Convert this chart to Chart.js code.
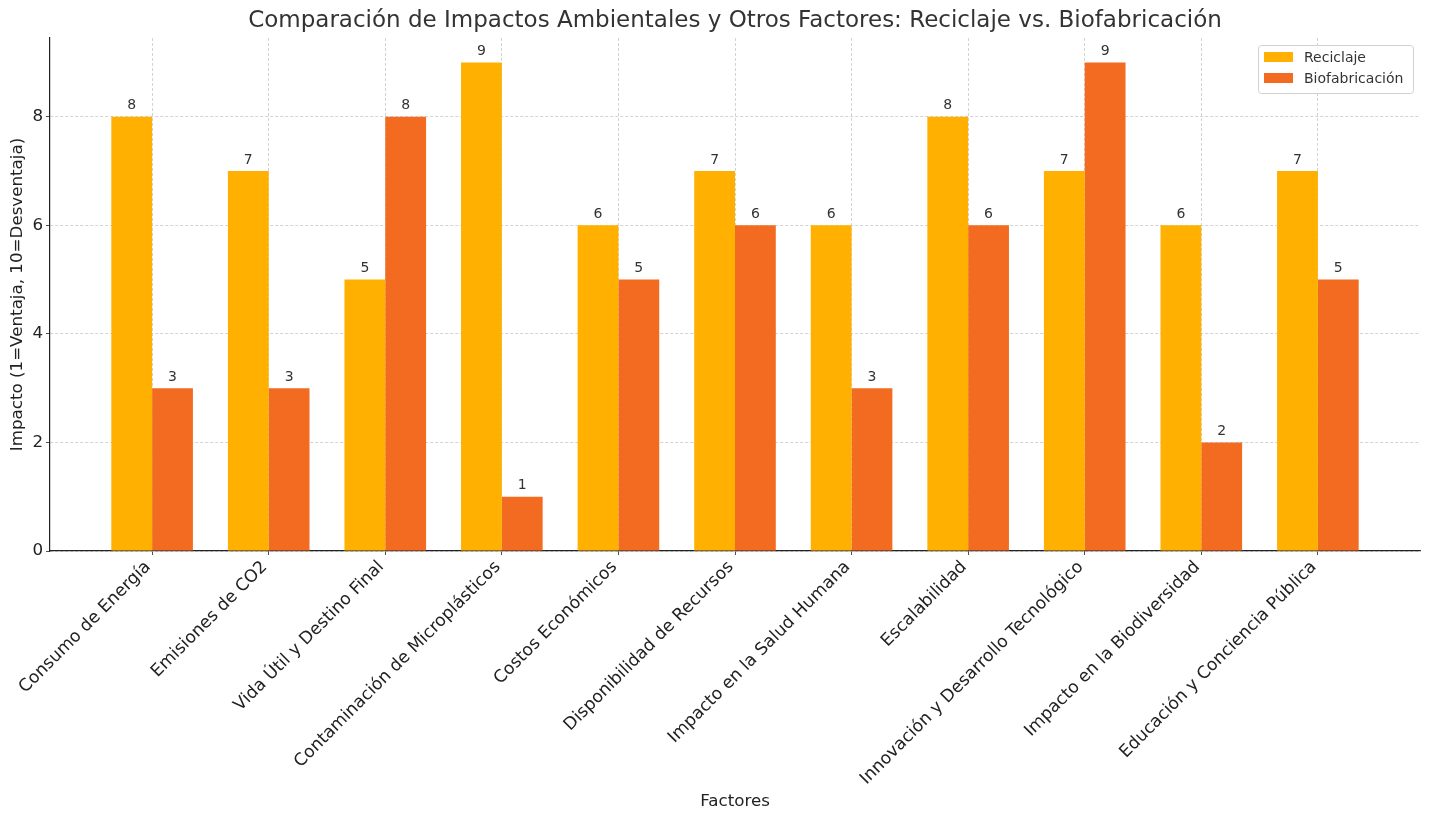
<!DOCTYPE html>
<html>
<head>
<meta charset="utf-8">
<script src="https://cdn.jsdelivr.net/npm/chart.js@4/dist/chart.umd.min.js"></script>
<style>
  html, body { margin: 0; padding: 0; background: #fff; }
  #wrap { width: 1430px; height: 822px; }
</style>
</head>
<body>
<div id="wrap"><canvas id="barChart" width="1430" height="822"></canvas></div>
<script>
// Data
const categories = ['Consumo de Energía', 'Emisiones de CO2', 'Vida Útil y Destino Final',
    'Contaminación de Microplásticos', 'Costos Económicos', 'Disponibilidad de Recursos',
    'Impacto en la Salud Humana', 'Escalabilidad', 'Innovación y Desarrollo Tecnológico',
    'Impacto en la Biodiversidad', 'Educación y Conciencia Pública'];
const reciclaje = [8, 7, 5, 9, 6, 7, 6, 8, 7, 6, 7];
const biofabricacion = [3, 3, 8, 1, 5, 6, 3, 6, 9, 2, 5];
const yTicks = [0, 2, 4, 6, 8];

const FONT = 'DejaVu Sans';
const colors = ['#ffb000', '#f26b21'];
const seriesNames = ['Reciclaje', 'Biofabricación'];

// value labels + title + legend
const extras = {
    id: 'extras',
    afterDatasetsDraw(chart) {
        const ctx = chart.ctx;
        ctx.save();
        ctx.font = '14px "' + FONT + '"';
        ctx.fillStyle = '#333';
        ctx.textAlign = 'center';
        ctx.textBaseline = 'bottom';
        chart.data.datasets.forEach((ds, i) => {
            chart.getDatasetMeta(i).data.forEach((bar, j) => {
                ctx.fillText(ds.data[j].y, bar.x, bar.y - 4);
            });
        });
        ctx.restore();
    },
    afterDraw(chart) {
        const ctx = chart.ctx;
        ctx.save();
        // title
        ctx.font = '23px "' + FONT + '"';
        ctx.fillStyle = '#333';
        ctx.textAlign = 'center';
        ctx.textBaseline = 'middle';
        ctx.fillText('Comparación de Impactos Ambientales y Otros Factores: Reciclaje vs. Biofabricación',
            (chart.chartArea.left + chart.chartArea.right) / 2, 21);
        // legend
        const lx = 1258, ly = 45, lw = 155, lh = 48;
        ctx.fillStyle = 'rgba(255,255,255,0.8)';
        ctx.strokeStyle = '#d0d0d0';
        ctx.lineWidth = 1;
        ctx.beginPath();
        ctx.roundRect(lx + 0.5, ly + 0.5, lw, lh, 3);
        ctx.fill();
        ctx.stroke();
        ctx.font = '14px "' + FONT + '"';
        ctx.textAlign = 'left';
        seriesNames.forEach((name, i) => {
            const y = ly + 12 + i * 21;
            ctx.fillStyle = colors[i];
            ctx.fillRect(lx + 6, y - 5, 29, 10);
            ctx.fillStyle = '#333';
            ctx.fillText(name, lx + 46, y + 1);
        });
        ctx.restore();
    }
};

const ctx = document.getElementById('barChart').getContext('2d');
const chart = new Chart(ctx, {
    type: 'bar',
    data: {
        datasets: [
            {
                label: seriesNames[0],
                data: reciclaje.map((v, i) => ({ x: i, y: v })),
                backgroundColor: colors[0]
            },
            {
                label: seriesNames[1],
                data: biofabricacion.map((v, i) => ({ x: i, y: v })),
                backgroundColor: colors[1]
            }
        ]
    },
    options: {
        responsive: false,
        animation: false,
        categoryPercentage: 0.7,
        barPercentage: 1.0,
        layout: { padding: { top: 38, right: 10, left: 0, bottom: 0 } },
        plugins: {
            legend: { display: false },
            tooltip: { enabled: false }
        },
        scales: {
            x: {
                type: 'linear',
                offset: false,
                min: -0.876,
                max: categories.length - 1 + 0.876,
                afterBuildTicks: (scale) => { scale.ticks = categories.map((c, i) => ({ value: i })); },
                afterFit: (scale) => { scale.height = 271; },
                ticks: {
                    autoSkip: false,
                    maxRotation: 45,
                    minRotation: 45,
                    font: { family: FONT, size: 17.2 },
                    color: '#222',
                    padding: 2,
                    labelOffset: -4,
                    callback: (v) => categories[v]
                },
                grid: {
                    offset: false,
                    color: '#c8c8c8',
                    lineWidth: 0.8,
                    tickColor: '#222',
                    tickLength: 4,
                    tickBorderDash: []
                },
                border: { color: '#222', width: 1.2, dash: [3, 2] },
                title: {
                    display: true,
                    text: 'Factores',
                    font: { family: FONT, size: 16.7 },
                    color: '#222',
                    padding: { top: 0, bottom: 10 }
                }
            },
            y: {
                min: 0,
                max: 9.45,
                afterBuildTicks: (scale) => { scale.ticks = yTicks.map(v => ({ value: v })); },
                afterFit: (scale) => { scale.width = 50; },
                ticks: {
                    font: { family: FONT, size: 16.7 },
                    color: '#222',
                    padding: 3
                },
                grid: {
                    color: '#c8c8c8',
                    lineWidth: 0.8,
                    tickColor: '#222',
                    tickLength: 4,
                    tickBorderDash: []
                },
                border: { color: '#222', width: 1.2, dash: [3, 2] },
                title: {
                    display: true,
                    text: 'Impacto (1=Ventaja, 10=Desventaja)',
                    font: { family: FONT, size: 16.7 },
                    color: '#222',
                    padding: { top: 8, bottom: 0 }
                }
            }
        }
    },
    plugins: [extras]
});
</script>
</body>
</html>
